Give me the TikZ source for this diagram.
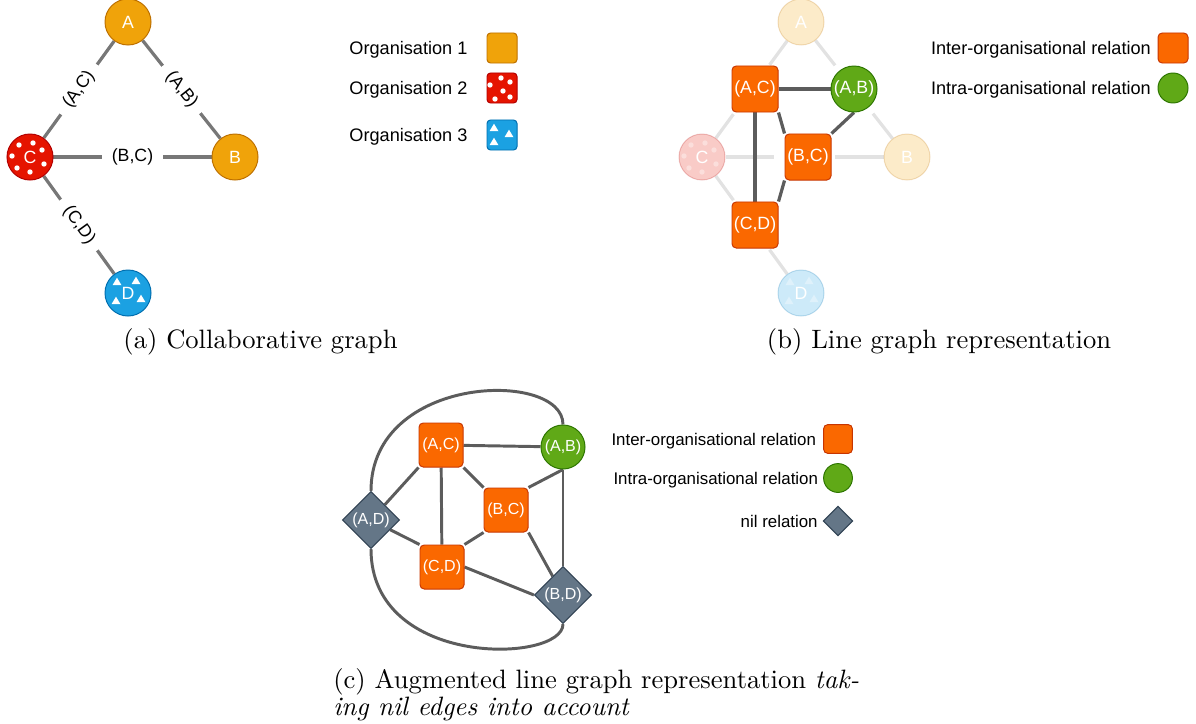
\documentclass[tikz,border=0pt]{standalone}
\usepackage{fontspec}
\newfontfamily\helv{Liberation Sans}
\newfontfamily\capfamily{lmroman10-regular.otf}[ItalicFont=lmroman10-italic.otf]
\usetikzlibrary{shapes, arrows.meta, positioning, backgrounds}

% colours of the organisations and relations
\definecolor{orgyellow}{HTML}{F0A30A}
\definecolor{orgyellowline}{HTML}{BD7000}
\definecolor{orgred}{HTML}{E51400}
\definecolor{orgredline}{HTML}{B20000}
\definecolor{orgblue}{HTML}{1BA1E2}
\definecolor{orgblueline}{HTML}{006EAF}
\definecolor{interfill}{HTML}{FA6800}
\definecolor{interline}{HTML}{C73500}
\definecolor{intrafill}{HTML}{60A917}
\definecolor{intraline}{HTML}{2D7600}
\definecolor{nilfill}{HTML}{647687}
\definecolor{nilline}{HTML}{314354}
\definecolor{edgegray}{HTML}{777777}
\definecolor{darkedge}{HTML}{5C5C5C}
\definecolor{fadegray}{HTML}{E2E2E2}

\newcommand{\labfont}{\helv\fontsize{12.6}{15}\selectfont}
\newcommand{\smalllabfont}{\helv\fontsize{11.4}{13.5}\selectfont}
\newcommand{\legfont}{\helv\fontsize{12.9}{15}\selectfont}
\newcommand{\smalllegfont}{\helv\fontsize{12}{14}\selectfont}
\newcommand{\capfont}{\capfamily\fontsize{18.9}{19.3}\selectfont}

\tikzset{
    orgnode/.style={circle, draw, line width=0.7pt, minimum size=1.15cm, inner sep=0pt, text=white, font=\labfont},
    orgone/.style={orgnode, fill=orgyellow, draw=orgyellowline},
    orgtwo/.style={orgnode, fill=orgred, draw=orgredline},
    orgthree/.style={orgnode, fill=orgblue, draw=orgblueline},
    faded/.style={fill opacity=0.22, draw opacity=0.22, text opacity=1},
    relnode/.style={line width=0.7pt, inner sep=0pt, text=white, font=\labfont},
    inter/.style={relnode, rectangle, rounded corners=3pt, minimum size=1.15cm, fill=interfill, draw=interline},
    intra/.style={relnode, circle, minimum size=1.15cm, fill=intrafill, draw=intraline},
    nilrel/.style={relnode, diamond, minimum size=1.43cm, fill=nilfill, draw=nilline},
    cinter/.style={inter, minimum size=1.1cm, font=\smalllabfont},
    cintra/.style={intra, minimum size=1.1cm, font=\smalllabfont},
    cnil/.style={nilrel, font=\smalllabfont},
    aedge/.style={draw=edgegray, line width=2.3pt},
    bedge/.style={draw=darkedge, line width=2.3pt},
    fadeedge/.style={draw=fadegray, line width=2.3pt},
    cedge/.style={draw=darkedge, line width=2.1pt},
    elabel/.style={fill=white, inner xsep=0.25cm, inner ysep=1pt, font=\labfont, sloped},
    fadegap/.style={fill=white, minimum width=1.525cm, minimum height=0.3cm, inner sep=0pt, sloped},
    legbox/.style={rectangle, rounded corners=2.5pt, minimum size=0.75cm, inner sep=0pt, line width=0.7pt},
    legtext/.style={inner sep=0pt, text depth=0pt, font=\legfont},
    subcap/.style={inner sep=0pt, font=\capfont},
}

\begin{document}
\begin{tikzpicture}[x=0.025cm, y=-0.025cm]
    \useasboundingbox (0,0) rectangle (1196,723);

    % (a) collaborative graph
    \node[orgone] (a) at (128,22) {A};
    \node[orgone] (b) at (235,157) {B};
    \node[orgtwo] (c) at (30,157) {C};
    \node[orgthree] (d) at (128,293) {D};
    \foreach \dx/\dy in {-11/-12, 3/-14, 12/-7, -18/-1, 14/7, 0/15, -13/11}
        \fill[white] ([shift={(\dx,\dy)}]c.center) circle[radius=1.9pt];
    \foreach \dx/\dy in {-11/-11, 8/-12, -12/8, 13/6}
        \fill[white] ([shift={(\dx,\dy)}]d.center) +(0,-4.3) -- +(-4.5,3.2) -- +(4.5,3.2) -- cycle;

    % legend of the organisations
    \node[legbox, fill=orgyellow, draw=orgyellowline] (lone) at (502,48) {};
    \node[legbox, fill=orgred, draw=orgredline] (ltwo) at (502,88) {};
    \node[legbox, fill=orgblue, draw=orgblueline] (lthree) at (502,135) {};
    \foreach \dx/\dy in {-1/-10, 8/-6, -12/-3, 1/3, -7/11, 8/9}
        \fill[white] ([shift={(\dx,\dy)}]ltwo.center) circle[radius=1.9pt];
    \foreach \dx/\dy in {-8/-7, 7/-1, -8/7}
        \fill[white] ([shift={(\dx,\dy)}]lthree.center) +(0,-4.3) -- +(-4.5,3.2) -- +(4.5,3.2) -- cycle;
    \node[legtext, left=0.47cm of lone] {Organisation 1};
    \node[legtext, left=0.47cm of ltwo] {Organisation 2};
    \node[legtext, left=0.47cm of lthree] {Organisation 3};

    % (b) line graph, the organisations faded out
    \node[orgone, faded] (fa) at (801,22) {A};
    \node[orgone, faded] (fb) at (907,157) {B};
    \node[orgtwo, faded] (fc) at (702,157) {C};
    \node[orgthree, faded] (fd) at (801,293) {D};
    \foreach \dx/\dy in {-11/-12, 3/-14, 12/-7, -18/-1, 14/7, 0/15, -13/11}
        \fill[white, opacity=0.35] ([shift={(\dx,\dy)}]fc.center) circle[radius=1.9pt];
    \foreach \dx/\dy in {-11/-11, 8/-12, -12/8, 13/6}
        \fill[white, opacity=0.35] ([shift={(\dx,\dy)}]fd.center) +(0,-4.3) -- +(-4.5,3.2) -- +(4.5,3.2) -- cycle;

    \node[inter] (ac) at (755,89) {(A,C)};
    \node[intra] (ab) at (854,89) {(A,B)};
    \node[inter] (bc) at (808,157) {(B,C)};
    \node[inter] (cd) at (755,225) {(C,D)};

    % legend of the relations
    \node[inter, minimum size=0.75cm] (linter) at (1173,48) {};
    \node[intra, minimum size=0.75cm] (lintra) at (1173,88) {};
    \node[legtext, left=0.16cm of linter] {Inter-organisational relation};
    \node[legtext, left=0.16cm of lintra] {Intra-organisational relation};

    % (c) augmented line graph
    \node[cinter] (ac2) at (441,445) {(A,C)};
    \node[cintra] (ab2) at (563,447) {(A,B)};
    \node[cinter] (bc2) at (506,510) {(B,C)};
    \node[cinter] (cd2) at (442,567) {(C,D)};
    \node[cnil] (ad2) at (371,520) {(A,D)};
    \node[cnil] (bd2) at (563,595) {(B,D)};

    % legend of the augmented relations
    \node[inter, minimum size=0.72cm] (cinter) at (838,439) {};
    \node[intra, minimum size=0.72cm] (cintra) at (838,478) {};
    \node[nilrel, minimum size=0.74cm] (cnil) at (838,521) {};
    \node[legtext, font=\smalllegfont, left=0.17cm of cinter] {Inter-organisational relation};
    \node[legtext, font=\smalllegfont, left=0.12cm of cintra] {Intra-organisational relation};
    \node[legtext, font=\smalllegfont, left=0.12cm of cnil] {nil relation};

    % captions
    \node[subcap, anchor=base] (capa) at (260.5,348) {(a) Collaborative graph};
    \node[subcap, anchor=base] (capb) at (939,348) {(b) Line graph representation};
    \node[subcap, anchor=north west, align=left] (capc) at (333,668)
        {(c) Augmented line graph representation \textit{tak-}\\\textit{ing nil edges into account}};

    % connectors behind the nodes
    \begin{scope}[on background layer]
        \draw[aedge] (a) -- node[elabel] {(A,C)} (c);
        \draw[aedge] (a) -- node[elabel] {(A,B)} (b);
        \draw[aedge] (c) -- node[elabel] {(B,C)} (b);
        \draw[aedge] (c) -- node[elabel] {(C,D)} (d);

        \draw[fadeedge] (fa) -- node[fadegap] {} (fc);
        \draw[fadeedge] (fa) -- node[fadegap] {} (fb);
        \draw[fadeedge] (fc) -- node[fadegap] {} (fb);
        \draw[fadeedge] (fc) -- node[fadegap] {} (fd);

        \draw[bedge] (ac) -- (ab);
        \draw[bedge] (ac.south east) -- (bc.north west);
        \draw[bedge] (ac) -- (cd);
        \draw[bedge] (ab.south) -- (bc.north east);
        \draw[bedge] (bc.south west) -- (cd.north east);

        \draw[cedge] (ac2) -- (ab2);
        \draw[cedge] (ac2.south east) -- (bc2.north west);
        \draw[cedge] (ac2) -- (cd2);
        \draw[cedge] (ad2) -- (ac2.south west);
        \draw[cedge] (ab2.south) -- (bc2.north east);
        \draw[cedge] (ab2) -- (bd2);
        \draw[cedge] (bc2.south west) -- (cd2.north east);
        \draw[cedge] (bc2.south east) -- (bd2);
        \draw[cedge] (cd2.east) -- (bd2.west);
        \draw[cedge] (ad2) -- (cd2.north west);
        \draw[cedge] (ad2.north) .. controls +(0,-117) and +(0,-55) .. (ab2.north);
        \draw[cedge] (ad2.south) .. controls +(0,120) and +(0,39) .. (bd2.south);
    \end{scope}
\end{tikzpicture}
\end{document}
